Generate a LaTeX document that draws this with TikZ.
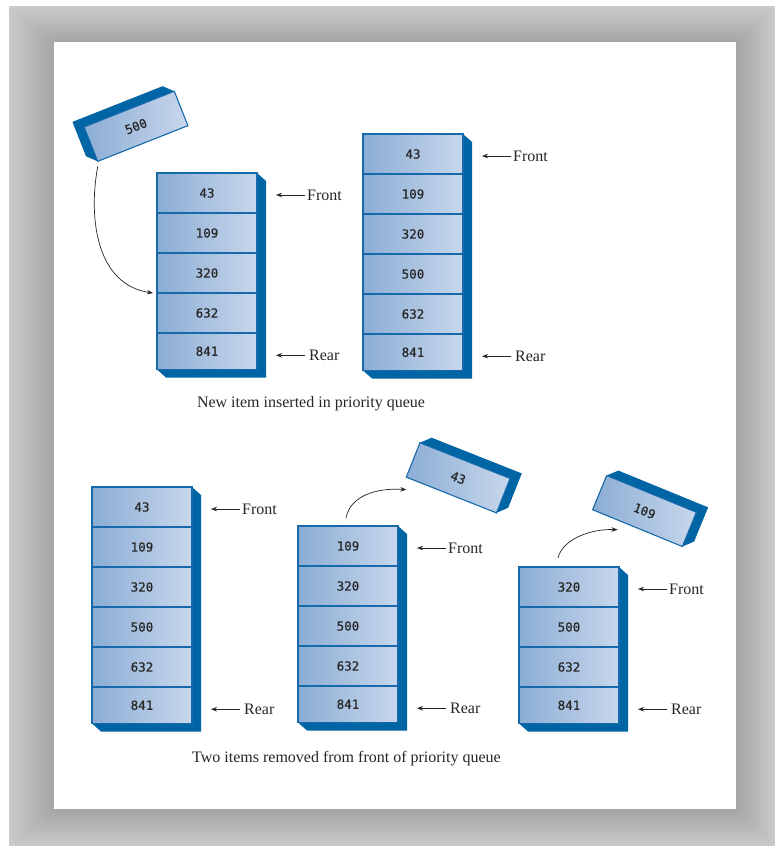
\documentclass[tikz,border=0pt]{standalone}
\usepackage{fontspec}
\setmainfont{Liberation Serif}
\newfontfamily\numfont[FakeBold=0.8]{DejaVu Sans Mono}
\usetikzlibrary{arrows.meta}
\definecolor{qside}{RGB}{0,101,164}
\definecolor{qedge}{RGB}{22,106,172}
\definecolor{qleft}{RGB}{139,173,212}
\definecolor{qright}{RGB}{200,215,236}
\definecolor{qtext}{RGB}{40,40,40}
\definecolor{flight}{RGB}{202,202,202}
\definecolor{fdark}{RGB}{165,165,165}
\tikzset{
  cell/.style={rectangle, inner sep=0pt, outer sep=0pt, minimum width=100, minimum height=40,
    draw=qedge, line width=1.1pt, left color=qleft, right color=qright,
    font=\numfont\fontsize{12.5}{13}\selectfont, text=qtext},
  side/.style={fill=qside},
  lbl/.style={inner sep=2pt, font=\fontsize{16}{18}\selectfont, text=black!85},
  captext/.style={inner sep=0pt, font=\fontsize{16}{18}\selectfont, text=black!85},
  arr/.style={-{Stealth[length=6,width=4.5]}, line width=0.7pt, black!85}
}
\begin{document}
\begin{tikzpicture}[x=1pt,y=-1pt]
\useasboundingbox (0,0) rectangle (775,846);
% frame
\shade[top color=flight, bottom color=fdark] (9,6) -- (775,6) -- (736,42) -- (54,42) -- cycle;
\shade[top color=fdark, bottom color=flight] (9,846) -- (54,809) -- (736,809) -- (775,846) -- cycle;
\shade[left color=flight, right color=fdark] (9,6) -- (54,42) -- (54,809) -- (9,846) -- cycle;
\shade[left color=fdark, right color=flight] (775,6) -- (736,42) -- (736,809) -- (775,846) -- cycle;
\fill[white] (54,42) rectangle (736,809);

% stacks
\foreach \s/\x/\y/\n/\vals in {a/157/173/5/{43,109,320,632,841},
    b/363/134/6/{43,109,320,500,632,841}, c/92/487/6/{43,109,320,500,632,841},
    d/298/526/5/{109,320,500,632,841}, e/519/567/4/{320,500,632,841}}{
  \pgfmathsetmacro\bot{\y+40*(\n-1)+36.5}
  \fill[side] (\x+100,\y) -- (\x+109,\y+8) -- (\x+109,\bot+8) -- (\x+9,\bot+8) -- (\x,\bot) -- (\x+100,\bot) -- cycle;
  \foreach \v [count=\i] in \vals{
    \pgfmathsetmacro\h{\i==\n ? 36.5 : 40}
    \node[cell, minimum height=\h, anchor=north west] (\s\i) at (\x,\y+40*\i-40) {\v};
  }
  \node[lbl, anchor=west] (\s fr) at ([xshift=48,yshift=-2]\s1.east) {Front};
  \coordinate (\s ft) at ([xshift=19,yshift=-2]\s1.east);
  \draw[arr] (\s fr) -- (\s ft);
  \node[lbl, anchor=west] (\s re) at ([xshift=50,yshift=-4]\s\n.east) {Rear};
  \coordinate (\s rt) at ([xshift=19,yshift=-4]\s\n.east);
  \draw[arr] ([xshift=-2]\s re.west) -- (\s rt);
}

% loose items
\foreach \b/\cx/\cy/\ang/\dx in {500/136/126.3/21.6/-1, 43/458.2/477.8/-21.6/1, 109/644.5/511/-22.3/1}{
  \begin{scope}[shift={(\cx,\cy)}, rotate=\ang, xscale=\dx]
    \fill[side] (-48.5,-18.5) -- (-39.5,-27.5) -- (57.5,-27.5) -- (57.5,9.5) -- (48.5,18.5) -- (48.5,-18.5) -- cycle;
  \end{scope}
  \node[cell, minimum width=97, minimum height=37, rotate=\ang] (n\b) at (\cx,\cy) {\b};
}

\draw[arr] ([yshift=-5]n500.south west) .. controls +(-10,55) and +(-55,-8) .. ([xshift=-4]a4.north west);
\draw[arr] ([xshift=-2,yshift=8]d1.north) .. controls +(4,-22) and +(-30,-2) .. ([yshift=-12.5]n43.south west);
\draw[arr] ([xshift=-11,yshift=9]e1.north) .. controls +(5,-20) and +(-25,-1) .. ([xshift=25,yshift=-20]n109.south west);

\node[captext] (cap1) at (311,404) {New item inserted in priority queue};
\node[captext] (cap2) at (346.5,759) {Two items removed from front of priority queue};
\end{tikzpicture}
\end{document}
